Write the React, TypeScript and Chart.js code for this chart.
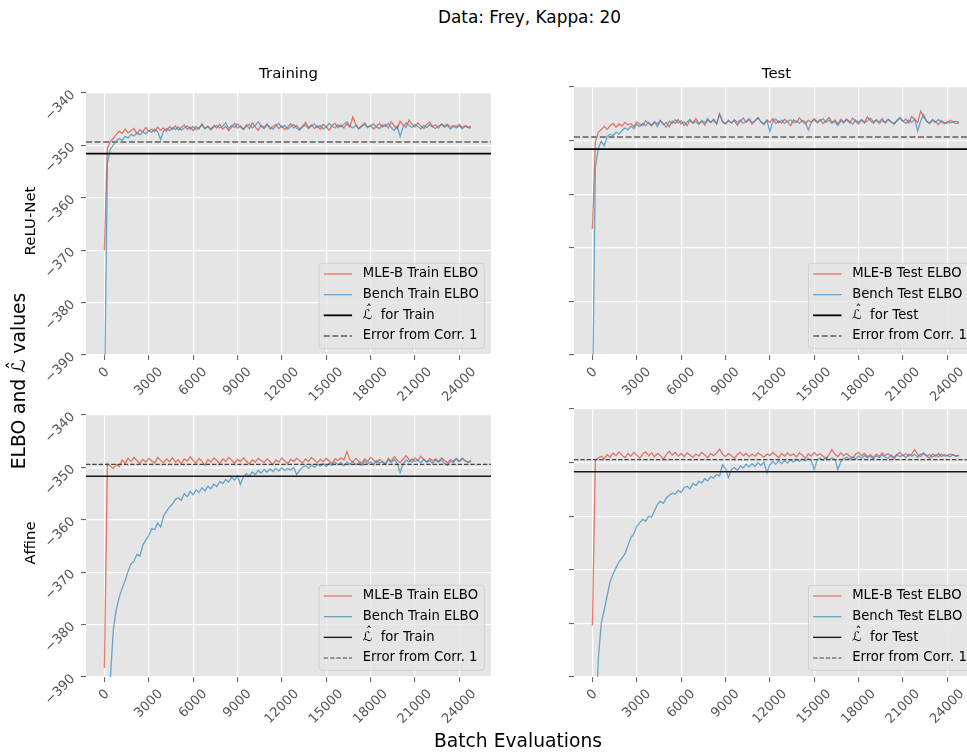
import React, { useEffect, useRef } from 'react';
import { Chart, registerables } from 'chart.js';

Chart.register(...registerables);

const FONT = '"DejaVu Sans", sans-serif';
const TICK_FS = 13.2;
const LEG_FS = 13.2;

// Batch evaluations (x values)
const batchEvals = [
  0, 200, 400, 600, 800, 1000, 1200, 1400, 1600, 1800,
  2000, 2200, 2400, 2600, 2800, 3000, 3200, 3400, 3600, 3800,
  4000, 4200, 4400, 4600, 4800, 5000, 5200, 5400, 5600, 5800,
  6000, 6200, 6400, 6600, 6800, 7000, 7200, 7400, 7600, 7800,
  8000, 8200, 8400, 8600, 8800, 9000, 9200, 9400, 9600, 9800,
  10000, 10200, 10400, 10600, 10800, 11000, 11200, 11400, 11600, 11800,
  12000, 12200, 12400, 12600, 12800, 13000, 13200, 13400, 13600, 13800,
  14000, 14200, 14400, 14600, 14800, 15000, 15200, 15400, 15600, 15800,
  16000, 16200, 16400, 16600, 16800, 17000, 17200, 17400, 17600, 17800,
  18000, 18200, 18400, 18600, 18800, 19000, 19200, 19400, 19600, 19800,
  20000, 20200, 20400, 20600, 20800, 21000, 21200, 21400, 21600, 21800,
  22000, 22200, 22400, 22600, 22800, 23000, 23200, 23400, 23600, 23800,
  24000, 24200, 24400, 24600, 24800,
];

// ReLU-Net, Training
const mleReluTrain = [
  -370.0, -350.6, -349.2, -348.7, -347.9, -347.3, -347.7, -346.9, -347.6, -347.2,
  -346.8, -347.8, -347.0, -347.4, -346.6, -347.3, -346.9, -347.4, -346.5, -347.1,
  -346.7, -347.3, -346.4, -347.0, -346.3, -347.1, -346.6, -346.1, -347.0, -346.5,
  -347.2, -346.4, -346.9, -345.9, -346.8, -346.4, -347.1, -346.2, -346.7, -346.0,
  -346.9, -346.4, -347.2, -346.5, -345.8, -346.7, -346.3, -347.0, -346.1, -346.8,
  -345.7, -346.5, -347.1, -346.2, -346.6, -345.9, -346.9, -346.4, -346.0, -346.8,
  -346.3, -347.0, -346.5, -345.9, -346.7, -346.2, -346.9, -346.4, -345.6, -346.6,
  -346.1, -346.8, -346.3, -346.9, -346.0, -346.5, -347.1, -346.2, -345.8, -346.6,
  -346.1, -346.7, -345.9, -346.5, -344.6, -346.0, -346.8, -346.3, -345.7, -346.6,
  -346.2, -346.9, -346.4, -345.8, -346.5, -346.0, -346.7, -345.5, -346.3, -346.8,
  -345.4, -346.1, -346.6, -345.2, -346.0, -346.5, -345.7, -346.3, -346.8, -346.0,
  -345.6, -346.4, -346.1, -346.7, -345.9, -346.3, -346.0, -346.5, -346.2, -346.4,
  -346.0, -346.6, -346.2, -346.5, -346.4,
];
const benchReluTrain = [
  -400.0, -353.5, -350.8, -349.9, -349.2, -348.7, -349.0, -348.3, -348.6, -347.9,
  -348.2, -347.6, -348.0, -347.4, -347.8, -347.2, -347.5, -346.9, -347.4, -348.9,
  -347.3, -346.8, -347.2, -346.6, -347.0, -346.5, -347.1, -346.7, -346.3, -346.9,
  -346.4, -347.0, -346.6, -346.1, -346.8, -346.4, -346.9, -346.5, -346.2, -346.7,
  -346.3, -345.7, -346.8, -346.2, -346.6, -345.9, -346.5, -346.9, -346.3, -346.0,
  -346.7, -346.2, -345.5, -346.4, -346.8, -346.1, -346.5, -346.9, -346.3, -345.8,
  -346.6, -346.2, -346.9, -346.4, -346.0, -346.7, -347.1, -346.5, -346.1, -346.8,
  -346.3, -345.9, -346.6, -346.2, -346.9, -346.5, -345.8, -346.4, -346.7, -346.1,
  -346.5, -346.0, -345.5, -346.3, -346.7, -346.2, -346.9, -346.4, -346.0, -346.6,
  -346.3, -345.9, -346.5, -346.8, -346.1, -346.4, -345.8, -346.6, -347.2, -346.3,
  -348.3, -346.5, -345.7, -346.2, -346.6, -346.0, -346.4, -346.9, -346.2, -346.6,
  -346.1, -346.5, -346.8, -346.3, -346.0, -346.6, -346.2, -346.9, -346.4, -346.7,
  -346.3, -346.8, -346.4, -346.6, -346.7,
];

// ReLU-Net, Test
const mleReluTest = [
  -366.5, -350.3, -348.4, -348.0, -347.3, -347.9, -347.2, -346.8, -347.5, -346.9,
  -347.3, -346.6, -347.1, -346.8, -347.4, -346.5, -346.9, -347.2, -346.3, -346.8,
  -347.3, -346.5, -346.9, -346.2, -347.0, -346.6, -347.4, -346.4, -346.8, -346.1,
  -346.9, -346.5, -347.2, -346.3, -346.7, -345.9, -346.8, -346.4, -347.1, -346.2,
  -346.6, -346.0, -346.9, -345.0, -346.5, -346.9, -346.2, -346.7, -346.3, -347.1,
  -346.4, -345.8, -346.6, -346.1, -346.9, -346.3, -345.7, -346.5, -347.0, -346.2,
  -346.6, -345.9, -346.8, -346.3, -346.7, -346.0, -346.5, -347.2, -346.1, -346.6,
  -345.8, -346.4, -346.9, -346.2, -346.6, -345.9, -346.5, -346.1, -346.8, -346.3,
  -345.7, -346.6, -346.2, -346.9, -346.0, -346.5, -346.1, -346.7, -345.8, -346.4,
  -346.9, -346.1, -346.6, -345.6, -346.3, -346.8, -346.2, -346.5, -345.9, -346.7,
  -346.1, -346.5, -346.9, -346.2, -345.8, -346.4, -346.0, -346.7, -345.5, -346.1,
  -346.6, -344.5, -345.6, -346.3, -346.8, -346.1, -346.5, -347.0, -346.3, -346.6,
  -346.8, -346.2, -346.5, -346.4, -346.6,
];
const benchReluTest = [
  -400.0, -355.0, -351.4, -350.1, -351.0, -349.2, -348.8, -349.1, -348.4, -348.8,
  -348.1, -347.6, -348.0, -347.3, -347.8, -346.9, -347.4, -346.8, -347.2, -346.6,
  -347.1, -346.5, -347.4, -346.3, -346.9, -347.5, -346.4, -346.8, -346.1, -346.7,
  -346.3, -347.2, -346.5, -346.0, -346.8, -346.4, -347.0, -346.2, -346.7, -345.9,
  -346.6, -346.2, -346.9, -345.1, -346.4, -346.8, -346.3, -346.7, -346.1, -346.6,
  -346.2, -346.8, -346.4, -345.9, -346.7, -346.3, -345.8, -346.5, -346.9, -346.2,
  -348.3, -346.4, -346.0, -346.7, -346.2, -346.8, -346.4, -346.1, -346.7, -346.3,
  -346.8, -346.2, -346.5, -348.0, -346.6, -346.1, -346.7, -346.3, -345.9, -346.6,
  -346.2, -346.8, -346.4, -347.2, -346.3, -346.7, -346.0, -346.5, -346.9, -346.2,
  -346.6, -346.1, -346.7, -346.3, -345.8, -346.5, -346.1, -346.8, -346.3, -346.6,
  -346.0, -346.5, -346.9, -346.3, -345.7, -346.4, -346.8, -346.2, -346.6, -346.0,
  -348.2, -346.3, -345.2, -346.4, -346.8, -346.2, -346.6, -346.1, -346.5, -346.9,
  -346.4, -346.7, -346.5, -346.8, -346.7,
];

// Affine, Training
const mleAffineTrain = [
  -388.3, -349.3, -349.8, -350.2, -349.5, -349.9, -348.6, -349.2, -348.3, -348.9,
  -348.1, -348.7, -349.3, -348.5, -349.0, -348.3, -348.8, -349.2, -348.1, -348.7,
  -349.1, -348.4, -348.9, -348.2, -349.0, -348.6, -349.3, -348.4, -348.8, -348.0,
  -348.7, -349.2, -348.3, -348.9, -349.6, -348.5, -349.0, -348.2, -348.7, -349.3,
  -348.4, -348.9, -348.1, -348.6, -349.2, -348.5, -348.9, -348.2, -348.8, -349.4,
  -348.6, -349.0, -348.3, -348.7, -349.1, -348.4, -348.9, -349.5, -348.6, -349.0,
  -348.2, -348.8, -349.3, -348.5, -348.9, -348.3, -348.7, -349.2, -348.4, -348.9,
  -348.1, -348.6, -349.1, -348.5, -348.9, -348.3, -348.8, -349.3, -348.4, -348.7,
  -348.2, -348.6, -347.0, -348.5, -349.0, -348.3, -348.8, -349.2, -348.4, -348.9,
  -348.1, -348.6, -349.1, -348.5, -348.9, -349.4, -348.3, -348.8, -348.0, -348.6,
  -349.1, -348.4, -347.8, -348.5, -349.0, -348.2, -348.7, -347.9, -348.5, -349.0,
  -348.3, -348.8, -348.4, -348.9, -348.2, -348.7, -349.1, -348.5, -348.8, -348.3,
  -348.9, -348.4, -348.7, -349.0, -348.6,
];
const benchAffineTrain = [
  -420.0, -405.0, -390.5, -381.0, -377.2, -374.8, -373.1, -371.6, -369.8, -368.4,
  -367.9, -366.6, -366.9, -364.8, -363.9, -363.0, -361.7, -361.9, -360.6, -361.4,
  -359.3, -358.4, -357.6, -357.0, -356.1, -355.8, -356.3, -355.0, -355.6, -354.6,
  -355.2, -354.3, -354.8, -353.9, -354.5, -353.6, -354.1, -353.2, -353.7, -352.7,
  -353.1, -352.3, -352.8, -351.9, -352.4, -351.6, -353.3, -351.8, -351.2, -351.7,
  -350.9, -351.4, -350.6, -351.1, -350.4, -350.9, -350.3, -350.8, -350.2, -350.7,
  -350.1, -350.6, -350.2, -350.5, -350.0, -351.4, -350.6, -350.0, -349.7, -350.2,
  -349.6, -350.0, -349.4, -349.8, -349.3, -349.9, -349.2, -349.6, -349.0, -349.5,
  -349.1, -349.7, -349.0, -349.4, -348.9, -349.5, -349.1, -349.6, -348.8, -349.3,
  -349.0, -349.5, -348.7, -349.2, -348.9, -349.4, -348.6, -349.1, -348.5, -349.2,
  -351.0, -349.3, -348.6, -349.0, -348.4, -348.9, -348.6, -349.1, -348.5, -349.0,
  -348.7, -349.2, -348.6, -349.0, -348.5, -349.3, -349.6, -348.8, -349.1, -348.4,
  -348.9, -348.2, -348.8, -349.1, -348.9,
];

// Affine, Test
const mleAffineTest = [
  -380.4, -349.6, -349.1, -348.8, -349.3, -348.5, -349.0, -348.2, -348.7, -348.0,
  -348.6, -349.1, -348.3, -348.8, -348.1, -348.6, -349.2, -348.4, -348.0, -348.7,
  -348.2, -348.9, -348.3, -348.7, -349.3, -348.5, -347.9, -348.6, -348.1, -348.8,
  -348.3, -348.9, -348.2, -348.6, -349.0, -348.4, -348.8, -348.1, -348.6, -349.1,
  -348.3, -348.7, -348.2, -347.5, -348.4, -348.9, -348.3, -348.7, -349.2, -348.5,
  -348.1, -348.7, -348.3, -348.9, -348.4, -348.8, -348.2, -348.6, -349.0, -348.4,
  -348.7, -348.1, -348.6, -349.1, -348.3, -348.8, -348.2, -348.7, -348.4, -348.9,
  -348.2, -348.6, -349.2, -348.4, -348.8, -348.1, -348.7, -348.3, -348.8, -349.3,
  -348.5, -347.6, -348.4, -348.9, -348.2, -348.7, -348.3, -348.8, -349.2, -348.4,
  -348.1, -348.7, -348.3, -348.9, -348.5, -349.1, -348.4, -348.8, -348.2, -348.7,
  -348.3, -348.8, -349.3, -348.5, -348.1, -348.7, -348.3, -348.8, -348.4, -347.6,
  -348.5, -348.9, -348.2, -348.7, -349.2, -348.4, -348.8, -348.3, -348.9, -348.5,
  -348.7, -348.4, -348.6, -348.8, -348.7,
];
const benchAffineTest = [
  -420.0, -400.0, -386.5, -380.0, -377.5, -374.8, -372.2, -370.8, -369.6, -368.5,
  -367.8, -367.0, -365.5, -364.0, -363.3, -361.9, -361.2, -360.6, -360.9, -360.0,
  -360.2, -359.0, -357.8, -357.2, -357.6, -356.6, -356.1, -355.7, -355.9, -355.2,
  -355.6, -354.7, -354.4, -354.9, -353.9, -354.3, -353.5, -353.8, -353.0, -353.4,
  -352.6, -352.9, -352.2, -352.5, -350.4, -351.1, -352.8, -351.3, -350.9, -351.5,
  -350.6, -351.0, -350.3, -350.8, -350.2, -350.7, -350.0, -350.5, -349.9, -351.9,
  -350.4, -349.8, -350.3, -349.7, -350.2, -349.6, -350.1, -349.5, -349.9, -349.4,
  -349.8, -349.3, -349.7, -349.2, -349.6, -351.3, -349.5, -349.1, -349.6, -349.0,
  -349.5, -349.1, -349.4, -351.3, -349.8, -349.2, -349.0, -349.4, -348.9, -349.3,
  -348.8, -349.2, -348.7, -349.1, -348.8, -349.3, -348.7, -349.1, -348.6, -349.0,
  -349.2, -348.6, -349.0, -348.5, -348.9, -348.6, -349.1, -348.4, -348.8, -348.5,
  -349.0, -348.4, -348.3, -348.8, -348.5, -349.0, -348.6, -348.9, -348.4, -348.8,
  -348.7, -348.9, -348.5, -348.8, -348.6,
];

// Reference levels (TL, TR, BL, BR)
const lHatLevels = [-351.6, -351.6, -351.7, -351.7];
const corrErrLevels = [-349.35, -349.35, -349.45, -349.45];

// Ticks
const xTickValues = [0, 3000, 6000, 9000, 12000, 15000, 18000, 21000, 24000];
const xTickLabels = ['0', '3000', '6000', '9000', '12000', '15000', '18000', '21000', '24000'];
const yTickValues = [-390, -380, -370, -360, -350, -340];
const yTickLabels = ['\u2212390', '\u2212380', '\u2212370', '\u2212360', '\u2212350', '\u2212340'];

const X_MIN = -1245;
const X_MAX = 26145;
const Y_MIN = -390;
const Y_MAX = -340;

const RED = 'rgba(226,74,51,0.72)';
const BLUE = 'rgba(52,138,189,0.72)';

const HAT = '\u0302';

// canvas geometry around chart area
const YW = 80;
const PR = 12;
const PT = 10;
const XH = 70;
const AW = 405;
const AH = 268;

const bgPlugin = {
  id: 'panelBg',
  beforeDraw(chart: any) {
    const { ctx, chartArea: ca } = chart;
    ctx.save();
    ctx.fillStyle = '#E5E5E5';
    ctx.fillRect(ca.left, ca.top, ca.right - ca.left, ca.bottom - ca.top);
    ctx.restore();
  },
};

const xLabelPlugin = {
  id: 'xRotLabels',
  afterDraw(chart: any) {
    const sc = chart.scales.x;
    const ctx = chart.ctx;
    ctx.save();
    ctx.font = `${TICK_FS}px ${FONT}`;
    ctx.fillStyle = '#555555';
    ctx.textAlign = 'center';
    ctx.textBaseline = 'middle';
    sc.ticks.forEach((t: any) => {
      const idx = xTickValues.indexOf(t.value);
      if (idx < 0) return;
      const label = xTickLabels[idx];
      const px = sc.getPixelForValue(t.value);
      const w = ctx.measureText(label).width;
      const half = ((w + TICK_FS * 1.15) * Math.SQRT1_2) / 2;
      const cy = sc.top + 5 + 4.6 + half;
      ctx.save();
      ctx.translate(px, cy);
      ctx.rotate(-Math.PI / 4);
      ctx.fillText(label, 0, 0);
      ctx.restore();
    });
    ctx.restore();
  },
};

const legendPlugin = {
  id: 'boxLegend',
  afterDraw(chart: any) {
    const { ctx, chartArea: ca } = chart;
    const items = chart.data.datasets;
    ctx.save();
    ctx.font = `${LEG_FS}px ${FONT}`;
    const maxW = Math.max(
      ...items.map((d: any) => ctx.measureText(String(d.label).replace(HAT, '')).width)
    );
    const w = 43.7 + maxW + 5.5;
    const h = 85;
    const x0 = ca.right - 6.7 - w;
    const y0 = ca.bottom - 6.7 - h;
    ctx.beginPath();
    ctx.roundRect(x0, y0, w, h, 3);
    ctx.fillStyle = 'rgba(229,229,229,0.8)';
    ctx.fill();
    ctx.strokeStyle = 'rgba(204,204,204,0.8)';
    ctx.lineWidth = 1;
    ctx.stroke();
    items.forEach((d: any, i: number) => {
      const cy = y0 + 10.7 + i * 20.67;
      ctx.beginPath();
      ctx.setLineDash(d.borderDash || []);
      ctx.strokeStyle = d.borderColor;
      ctx.lineWidth = d.borderWidth;
      ctx.moveTo(x0 + 4.7, cy);
      ctx.lineTo(x0 + 33, cy);
      ctx.stroke();
      ctx.setLineDash([]);
      ctx.fillStyle = '#000';
      ctx.textAlign = 'left';
      ctx.textBaseline = 'middle';
      const label = String(d.label);
      const tx = x0 + 43.7;
      if (label.indexOf(HAT) >= 0) {
        const parts = label.split(HAT);
        const base = parts[0];
        ctx.fillText(base + parts.slice(1).join(''), tx, cy);
        const bw = ctx.measureText(base).width;
        ctx.font = `${LEG_FS * 0.9}px ${FONT}`;
        ctx.textAlign = 'center';
        ctx.fillText('\u02C6', tx + bw / 2 + 1.5, cy - 4.5);
        ctx.font = `${LEG_FS}px ${FONT}`;
      } else {
        ctx.fillText(label, tx, cy);
      }
    });
    ctx.restore();
  },
};

type PanelDef = {
  left: number;
  top: number;
  mle: number[];
  bench: number[];
  split: string;
  row: number;
  showY: boolean;
  idx: number;
};

const panels: PanelDef[] = [
  { left: 86, top: 87, mle: mleReluTrain, bench: benchReluTrain, split: 'Train', row: 0, showY: true, idx: 0 },
  { left: 574, top: 87, mle: mleReluTest, bench: benchReluTest, split: 'Test', row: 0, showY: false, idx: 1 },
  { left: 86, top: 409, mle: mleAffineTrain, bench: benchAffineTrain, split: 'Train', row: 1, showY: true, idx: 2 },
  { left: 574, top: 409, mle: mleAffineTest, bench: benchAffineTest, split: 'Test', row: 1, showY: false, idx: 3 },
];

function Panel({ p }: { p: PanelDef }) {
  const ref = useRef<HTMLCanvasElement | null>(null);
  useEffect(() => {
    if (!ref.current) return;
    const top = p.row === 0;
    const solidStyle = top
      ? { color: '#000000', width: 1.8 }
      : { color: '#1a1a1a', width: 1.4 };
    const dashStyle = top
      ? { color: '#808080', width: 2, dash: [6, 2.6] }
      : { color: '#444444', width: 1.2, dash: [4.4, 1.9] };
    const chart = new Chart(ref.current, {
      type: 'line',
      data: {
        datasets: [
          {
            label: `MLE-B ${p.split} ELBO`,
            data: batchEvals.map((x, i) => ({ x, y: p.mle[i] })),
            borderColor: RED,
            borderWidth: 1.3,
            pointRadius: 0,
            tension: 0,
            order: 3,
          },
          {
            label: `Bench ${p.split} ELBO`,
            data: batchEvals.map((x, i) => ({ x, y: p.bench[i] })),
            borderColor: BLUE,
            borderWidth: 1.3,
            pointRadius: 0,
            tension: 0,
            order: 2,
          },
          {
            label: `\u2112${HAT}  for ${p.split}`,
            data: [
              { x: X_MIN, y: lHatLevels[p.idx] },
              { x: X_MAX, y: lHatLevels[p.idx] },
            ],
            borderColor: solidStyle.color,
            borderWidth: solidStyle.width,
            pointRadius: 0,
            order: 1,
          },
          {
            label: 'Error from Corr. 1',
            data: [
              { x: X_MIN, y: corrErrLevels[p.idx] },
              { x: X_MAX, y: corrErrLevels[p.idx] },
            ],
            borderColor: dashStyle.color,
            borderWidth: dashStyle.width,
            borderDash: dashStyle.dash,
            pointRadius: 0,
            order: 0,
          },
        ],
      } as any,
      options: {
        animation: false,
        responsive: false,
        maintainAspectRatio: false,
        devicePixelRatio: 1,
        events: [],
        layout: { padding: { left: 0, right: PR, top: PT, bottom: 0 }, autoPadding: false },
        plugins: {
          legend: { display: false },
          tooltip: { enabled: false },
          title: { display: false },
        },
        scales: {
          x: {
            type: 'linear',
            min: X_MIN,
            max: X_MAX,
            afterBuildTicks: (s: any) => {
              s.ticks = xTickValues.map((v) => ({ value: v }));
            },
            afterFit: (s: any) => {
              s.height = XH;
            },
            grid: { color: '#FFFFFF', lineWidth: 1.2, tickColor: '#555555', tickLength: 5, tickWidth: 1 },
            border: { display: false },
            ticks: { display: false },
          },
          y: {
            type: 'linear',
            min: Y_MIN,
            max: Y_MAX,
            afterBuildTicks: (s: any) => {
              s.ticks = yTickValues.map((v) => ({ value: v }));
            },
            afterFit: (s: any) => {
              s.width = YW;
            },
            grid: { color: '#FFFFFF', lineWidth: 1.2, tickColor: '#555555', tickLength: 5, tickWidth: 1 },
            border: { display: false },
            ticks: {
              display: p.showY,
              minRotation: 45,
              maxRotation: 45,
              padding: 8,
              color: '#555555',
              font: { family: FONT, size: TICK_FS },
              callback: (v: any) => {
                const i = yTickValues.indexOf(Number(v));
                return i >= 0 ? yTickLabels[i] : '';
              },
            },
          },
        },
      } as any,
      plugins: [bgPlugin, xLabelPlugin, legendPlugin],
    });
    return () => chart.destroy();
  }, [p]);
  return (
    <canvas
      ref={ref}
      width={YW + AW + PR}
      height={PT + AH + XH}
      style={{
        position: 'absolute',
        left: p.left - YW,
        top: p.top - PT,
        width: YW + AW + PR,
        height: PT + AH + XH,
        display: 'block',
      }}
    />
  );
}

function Label({
  text,
  cx,
  cy,
  size,
  rotate,
  color,
}: {
  text: string;
  cx: number;
  cy: number;
  size: number;
  rotate?: boolean;
  color?: string;
}) {
  return (
    <div
      style={{
        position: 'absolute',
        left: cx,
        top: cy,
        transform: `translate(-50%, -50%)${rotate ? ' rotate(-90deg)' : ''}`,
        whiteSpace: 'nowrap',
        fontFamily: FONT,
        fontSize: size,
        lineHeight: 1,
        color: color || '#000',
      }}
    >
      {text}
    </div>
  );
}

export default function App() {
  return (
    <div
      style={{
        position: 'fixed',
        left: 0,
        top: 0,
        width: 967,
        height: 753,
        overflow: 'hidden',
        background: '#ffffff',
      }}
    >
      {panels.map((p) => (
        <Panel key={p.idx} p={p} />
      ))}
      <Label text="Data: Frey, Kappa: 20" cx={529.5} cy={17} size={16.9} />
      <Label text="Training" cx={288.5} cy={73} size={14.9} />
      <Label text="Test" cx={776.5} cy={73} size={14.9} />
      <Label text="ReLU-Net" cx={30} cy={221} size={14.9} rotate />
      <Label text="Affine" cx={30} cy={543} size={14.9} rotate />
      <Label text={'ELBO and \u2112\u0302 values'} cx={19} cy={381} size={18.7} rotate />
      <Label text="Batch Evaluations" cx={518} cy={741} size={18.7} />
    </div>
  );
}
